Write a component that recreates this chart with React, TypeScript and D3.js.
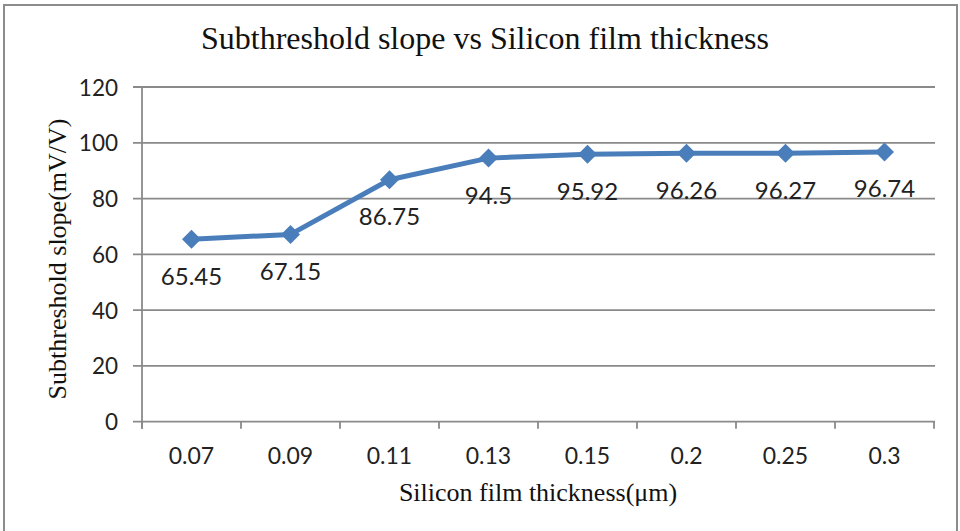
import * as d3 from "d3";

const categories = ["0.07", "0.09", "0.11", "0.13", "0.15", "0.2", "0.25", "0.3"];
const slopeValues = [65.45, 67.15, 86.75, 94.5, 95.92, 96.26, 96.27, 96.74];
const yTicks = [0, 20, 40, 60, 80, 100, 120];

const App = () => {
  const width = 960;
  const height = 531;
  const plot = { left: 142, right: 934, top: 87, bottom: 421.7 };

  const x = d3.scaleBand().domain(categories).range([plot.left, plot.right]);
  const y = d3.scaleLinear().domain([0, 120]).range([plot.bottom, plot.top]);

  const line = d3
    .line<number>()
    .x((_, i) => (x(categories[i]) as number) + x.bandwidth() / 2)
    .y((d) => y(d));

  const grid = "#8a8a8a";
  const blue = "#4a7ebb";
  const sans = "Lato, 'Open Sans', sans-serif";
  const serif = "'Liberation Serif', 'Times New Roman', serif";

  return (
    <svg
      width={width}
      height={height}
      style={{ position: "absolute", left: 0, top: 0, background: "white" }}
    >
      <rect x={4} y={5} width={953} height={540} fill="white" stroke="#8c8c8c" strokeWidth={2} />

      <text x={485} y={49} textAnchor="middle" fontFamily={serif} fontSize={32} fill="#111">
        Subthreshold slope vs Silicon film thickness
      </text>

      {yTicks.map((t) => (
        <g key={t}>
          <line x1={plot.left - 9} x2={plot.right + 1} y1={y(t)} y2={y(t)} stroke={grid} strokeWidth={1.8} />
          <text
            x={118}
            y={y(t)}
            textAnchor="end"
            dominantBaseline="central"
            fontFamily={sans}
            fontSize={22.5}
            fill="#222"
          >
            {t}
          </text>
        </g>
      ))}

      <line x1={plot.left} x2={plot.left} y1={plot.top} y2={plot.bottom + 7} stroke={grid} strokeWidth={1.8} />
      {categories.map((c) => (
        <line
          key={"t" + c}
          x1={x(c) as number}
          x2={x(c) as number}
          y1={plot.bottom}
          y2={plot.bottom + 7}
          stroke={grid}
          strokeWidth={1.8}
        />
      ))}
      <line x1={plot.right} x2={plot.right} y1={plot.bottom} y2={plot.bottom + 7} stroke={grid} strokeWidth={1.8} />

      {categories.map((c) => (
        <text
          key={"l" + c}
          x={(x(c) as number) + x.bandwidth() / 2}
          y={455}
          textAnchor="middle"
          dominantBaseline="central"
          fontFamily={sans}
          fontSize={23}
          fill="#222"
        >
          {c}
        </text>
      ))}

      <path d={line(slopeValues) ?? ""} fill="none" stroke={blue} strokeWidth={5} strokeLinejoin="round" />
      {slopeValues.map((v, i) => {
        const cx = (x(categories[i]) as number) + x.bandwidth() / 2;
        const cy = y(v);
        return (
          <g key={"p" + i}>
            <path d={`M${cx},${cy - 9.5}L${cx + 9.5},${cy}L${cx},${cy + 9.5}L${cx - 9.5},${cy}Z`} fill={blue} />
            <text
              x={cx}
              y={cy + 36}
              textAnchor="middle"
              dominantBaseline="central"
              fontFamily={sans}
              fontSize={24}
              fill="#222"
            >
              {v}
            </text>
          </g>
        );
      })}

      <text
        transform={`translate(57,259) rotate(-90)`}
        textAnchor="middle"
        dominantBaseline="central"
        fontFamily={serif}
        fontSize={26}
        fill="#111"
      >
        Subthreshold slope(mV/V)
      </text>
      <text
        x={(plot.left + plot.right) / 2}
        y={492}
        textAnchor="middle"
        dominantBaseline="central"
        fontFamily={serif}
        fontSize={26}
        fill="#111"
      >
        Silicon film thickness(μm)
      </text>
    </svg>
  );
};

export default App;
